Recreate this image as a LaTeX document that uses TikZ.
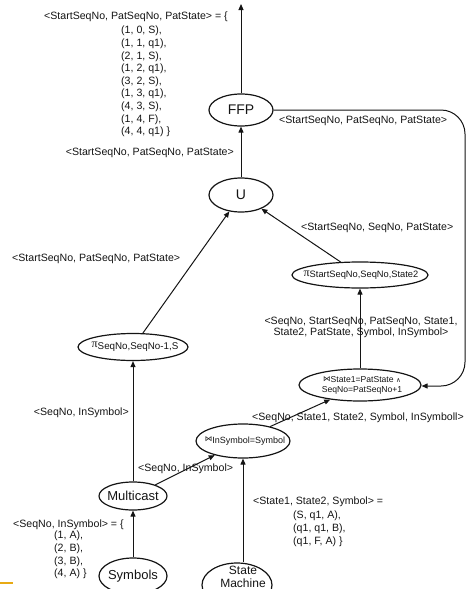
\documentclass[tikz,border=0pt]{standalone}
\usepackage{fontspec}
\setmainfont{Liberation Sans}
\newfontfamily\symfam{DejaVu Sans}
\newfontfamily\greekfam{Liberation Serif}
\usetikzlibrary{shapes.geometric,arrows.meta}

\definecolor{ink}{RGB}{20,20,20}
\definecolor{markgold}{RGB}{232,170,20}

\tikzset{
  op/.style={draw=ink, ellipse, line width=1.2pt, inner sep=0pt},
  flow/.style={draw=ink, line width=1pt, -{Triangle[length=6pt,width=5pt]}},
  lbl/.style={inner sep=0pt, text=ink, font=\fontsize{10.6}{12.6}\selectfont},
  bigtxt/.style={text=ink, font=\fontsize{14}{16}\selectfont},
  midtxt/.style={text=ink, font=\fontsize{13}{15}\selectfont},
  optxt/.style={inner sep=0pt, text=ink, align=center},
}
% projection symbol with its subscript list
\newcommand{\pisub}[3]{{\greekfam\fontsize{#1}{#1}\selectfont π}\raisebox{-1.5pt}{\fontsize{#2}{#2}\selectfont #3}}
% small join symbol
\newcommand{\joinsym}{\raisebox{1.5pt}{\symfam\fontsize{7.5}{7.5}\selectfont ⋈}}
\newcommand{\nw}[1]{\makebox[0pt]{#1}}

\begin{document}
\begin{tikzpicture}[x=1pt,y=1pt]
\useasboundingbox (0,0) rectangle (467,-589);
\clip (0,0) rectangle (467,-589);

% operators
\node[op, minimum width=64pt, minimum height=32pt, bigtxt] (ffp) at (241,-110) {FFP};
\node[op, minimum width=64pt, minimum height=34pt, bigtxt] (u) at (241,-195) {U};
\node[op, minimum width=136pt, minimum height=26pt] (pr) at (360,-275) {};
\node[optxt] (pr-txt) at (361,-275) {\pisub{12}{9.3}{StartSeqNo,SeqNo,State2}};
\node[op, minimum width=110pt, minimum height=27pt] (pl) at (133,-347) {};
\node[optxt] (pl-txt) at (135,-347) {\pisub{12}{9.8}{SeqNo,SeqNo-1,S}};
\node[op, minimum width=122pt, minimum height=32pt] (jn) at (360,-385) {};
\node[optxt, font=\fontsize{8.6}{9.5}\selectfont] (jn-txt) at (362,-385)
  {\joinsym State1=PatState {\symfam\fontsize{6.5}{6.5}\selectfont ∧}\\SeqNo=PatSeqNo+1};
\node[op, minimum width=94pt, minimum height=34pt] (js) at (243,-441) {};
\node[optxt, font=\fontsize{9}{9}\selectfont] (js-txt) at (245,-441) {\joinsym InSymbol=Symbol};
\node[op, minimum width=68pt, minimum height=28pt, midtxt] (mc) at (133,-496) {\nw{Multicast}};
\node[op, minimum width=68pt, minimum height=36pt, midtxt] (sy) at (133,-576) {\nw{Symbols}};
\node[op, minimum width=70pt, minimum height=44pt] (sm) at (237,-585) {};
\node[optxt, font=\fontsize{12}{13}\selectfont] (sm-txt) at (243,-576.5) {State\\Machine};

% connectors
\coordinate (outtop) at (241,-4);
\coordinate (fbbot) at (465,-386);
\draw[flow] (ffp.north) -- (outtop);
\draw[flow] (u.north) -- (ffp.south);
\draw[flow] (pr) -- (u);
\draw[flow] (pl) -- (u);
\draw[flow] (jn.north) -- (pr.south);
\draw[flow, rounded corners=24pt] (ffp.east) -| (fbbot) -- (jn.east |- fbbot);
\draw[flow] (js.28) -- (jn.206);
\draw[flow] (mc) -- (js);
\draw[flow] (mc.north) -- (pl.south);
\draw[flow] (sy.north) -- (mc.south);
\draw[flow] (js.south |- sm.north) -- (js.south);

% relation labels
\node[lbl, anchor=west] (out-hdr) at (44,-17) {<StartSeqNo, PatSeqNo, PatState> = \{};
\node[lbl, anchor=north west, align=left] (out-set) at (121,-26)
  {(1, 0, S),\\(1, 1, q1),\\(2, 1, S),\\(1, 2, q1),\\(3, 2, S),\\(1, 3, q1),\\(4, 3, S),\\(1, 4, F),\\(4, 4, q1) \}};
\node[lbl, anchor=east] (l-uffp) at (234,-153) {<StartSeqNo, PatSeqNo, PatState>};
\node[lbl, anchor=west] (l-fb) at (279,-121) {<StartSeqNo, PatSeqNo, PatState>};
\node[lbl, anchor=west] (l-pru) at (301,-228) {<StartSeqNo, SeqNo, PatState>};
\node[lbl, anchor=west] (l-plu) at (12,-259) {<StartSeqNo, PatSeqNo, PatState>};
\node[lbl, align=center, font=\fontsize{10.6}{11.7}\selectfont] (l-jnpr) at (361,-327.5)
  {<SeqNo, StartSeqNo, PatSeqNo, State1,\\State2, PatState, Symbol, InSymbol>};
\node[lbl, anchor=west] (l-jsjn) at (252,-418) {<SeqNo, State1, State2, Symbol, InSymboll>};
\node[lbl, anchor=east] (l-mcpl) at (129,-413) {<SeqNo, InSymbol>};
\node[lbl, anchor=west] (l-mcjs) at (138,-469) {<SeqNo, InSymbol>};
\node[lbl, anchor=west] (in-hdr) at (13,-525) {<SeqNo, InSymbol> = \{};
\node[lbl, anchor=north west, align=left] (in-set) at (54,-531)
  {(1, A),\\(2, B),\\(3, B),\\(4, A) \}};
\node[lbl, anchor=west] (sm-hdr) at (253,-502) {<State1, State2, Symbol> =};
\node[lbl, anchor=north west, align=left] (sm-set) at (293,-511)
  {(S, q1, A),\\(q1, q1, B),\\(q1, F, A) \}};

% small mark at the lower left edge
\draw[markgold, line width=2pt] (0,-583) -- (13,-583);
\end{tikzpicture}
\end{document}
